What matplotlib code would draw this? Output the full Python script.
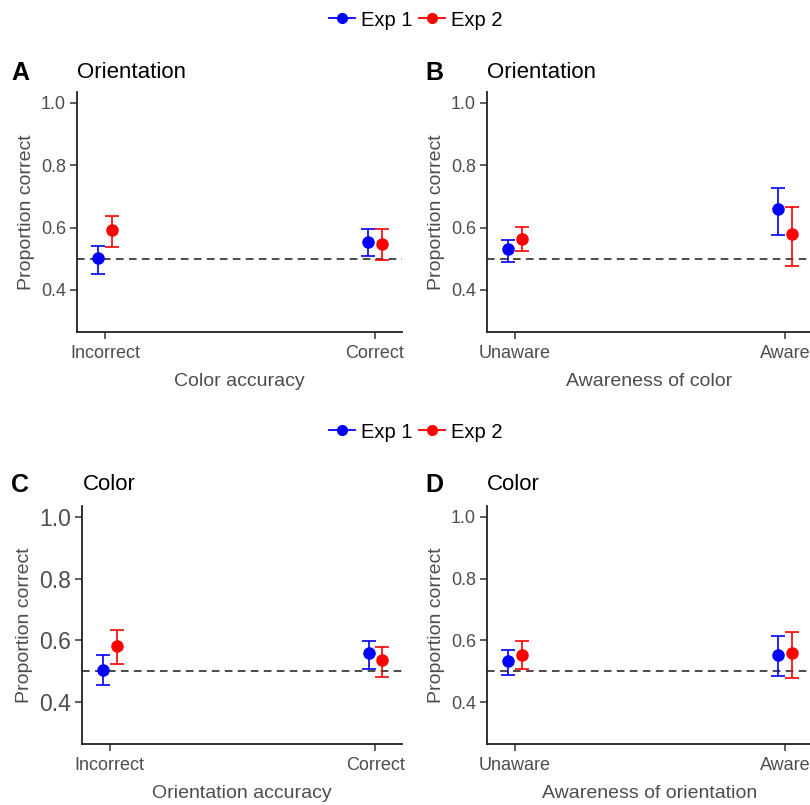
import matplotlib.pyplot as plt
from matplotlib.lines import Line2D

plt.rcParams['font.family'] = ['Liberation Sans', 'DejaVu Sans']

W, H, DPI = 810, 805, 100

exp_labels = ['Exp 1', 'Exp 2']
exp_colors = ['#0000FF', '#FF0000']
exp_shift = [-0.026, 0.026]

acc_levels = ['Incorrect', 'Correct']
aware_levels = ['Unaware', 'Aware']

# A: orientation, split by color accuracy  (rows: Exp 1, Exp 2)
a_mean = [[0.502, 0.554], [0.592, 0.548]]
a_low = [[0.451, 0.509], [0.538, 0.495]]
a_high = [[0.542, 0.596], [0.637, 0.596]]

# B: orientation, split by awareness of color
b_mean = [[0.531, 0.660], [0.563, 0.578]]
b_low = [[0.490, 0.576], [0.524, 0.476]]
b_high = [[0.561, 0.727], [0.603, 0.666]]

# C: color, split by orientation accuracy
c_mean = [[0.506, 0.559], [0.583, 0.536]]
c_low = [[0.456, 0.509], [0.523, 0.481]]
c_high = [[0.552, 0.599], [0.634, 0.580]]

# D: color, split by awareness of orientation
d_mean = [[0.535, 0.554], [0.554, 0.560]]
d_low = [[0.489, 0.485], [0.509, 0.480]]
d_high = [[0.570, 0.613], [0.599, 0.628]]

chance = 0.5
y_ticks = [0.4, 0.6, 0.8, 1.0]

fig = plt.figure(figsize=(W / DPI, H / DPI), dpi=DPI)


def px_axes(left, top, right, bottom):
    return fig.add_axes([left / W, 1 - bottom / H, (right - left) / W, (bottom - top) / H])


def draw_panel(ax, levels, mean, low, high, xlabel, ytick_size=13):
    xs = [1, 2]
    for k in range(2):
        x = [v + exp_shift[k] for v in xs]
        yerr = [[m - lo for m, lo in zip(mean[k], low[k])],
                [hi - m for m, hi in zip(mean[k], high[k])]]
        ax.errorbar(x, mean[k], yerr=yerr, fmt='o', color=exp_colors[k],
                    ms=8, elinewidth=1.2, capsize=5, capthick=1.2, zorder=3)
    ax.axhline(chance, color='#1a1a1a', lw=1.1, ls=(0, (5, 3.5)), zorder=2)
    ax.set_xlim(0.896, 2.1)
    ax.set_ylim(0.265, 1.035)
    ax.set_xticks(xs)
    ax.set_xticklabels(levels)
    ax.set_yticks(y_ticks)
    ax.set_yticklabels([f'{v:.1f}' for v in y_ticks])
    for s in ['top', 'right']:
        ax.spines[s].set_visible(False)
    for s in ['left', 'bottom']:
        ax.spines[s].set_linewidth(1.3)
        ax.spines[s].set_color('#222222')
    ax.tick_params(axis='both', length=5, width=1.1, color='#333333', colors='#4D4D4D')
    ax.tick_params(axis='x', labelsize=13, pad=4)
    ax.tick_params(axis='y', labelsize=ytick_size, pad=3)
    ax.set_xlabel(xlabel, fontsize=14, color='#4D4D4D', labelpad=8)
    ax.set_ylabel('Proportion correct', fontsize=14, color='#4D4D4D', labelpad=4)


ax_a = px_axes(77, 92, 402, 332)
draw_panel(ax_a, acc_levels, a_mean, a_low, a_high, 'Color accuracy')
ax_b = px_axes(487, 92, 812, 332)
draw_panel(ax_b, aware_levels, b_mean, b_low, b_high, 'Awareness of color')
ax_c = px_axes(82, 506, 402, 744)
draw_panel(ax_c, acc_levels, c_mean, c_low, c_high, 'Orientation accuracy', ytick_size=16.5)
ax_d = px_axes(487, 506, 812, 744)
draw_panel(ax_d, aware_levels, d_mean, d_low, d_high, 'Awareness of orientation')

# panel letters and titles
panels = [('A', 'Orientation', 11, 77, 78), ('B', 'Orientation', 425, 487, 78),
          ('C', 'Color', 11, 83, 490), ('D', 'Color', 425, 487, 490)]
for letter, title, lx, tx, y in panels:
    fig.text(lx / W, 1 - (y + 2) / H, letter, fontsize=18, fontweight='bold', va='baseline')
    fig.text(tx / W, 1 - y / H, title, fontsize=16, va='baseline')

# shared legends above each row
handles = [Line2D([], [], color=c, marker='o', ms=7, lw=1.3) for c in exp_colors]
for yc in [20, 432]:
    fig.legend(handles, exp_labels, loc='center', bbox_to_anchor=(416 / W, 1 - yc / H),
               ncol=2, frameon=False, fontsize=14.5, handlelength=1.3,
               handletextpad=0.3, columnspacing=0.3, borderpad=0)

fig.savefig('out.png', dpi=DPI)
